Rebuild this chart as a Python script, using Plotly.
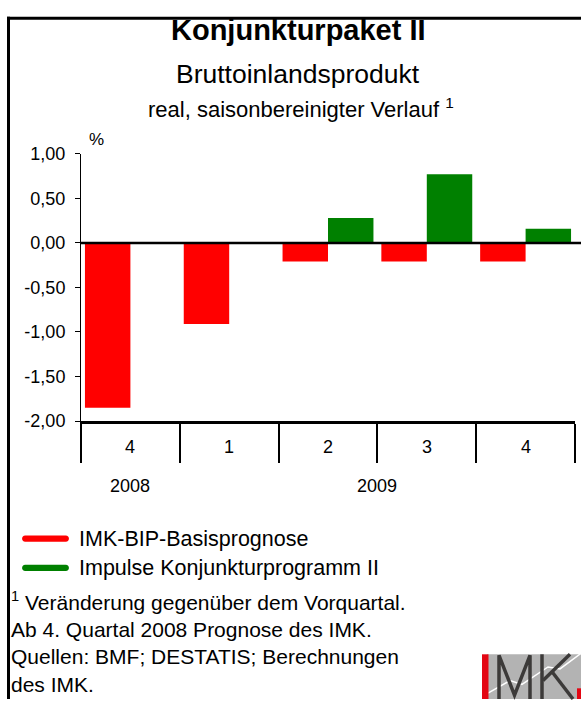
import plotly.graph_objects as go

# ---- data ----
quarters = ["Q4 2008", "Q1 2009", "Q2 2009", "Q3 2009", "Q4 2009"]
quarter_labels = ["4", "1", "2", "3", "4"]
years = ["2008", "2009"]
year_pos = [0, 2.5]
basis = [-1.85, -0.91, -0.21, -0.21, -0.21]
impulse = [None, None, 0.28, 0.77, 0.16]
ytick_vals = [1.0, 0.5, 0.0, -0.5, -1.0, -1.5, -2.0]
ytick_text = ["1,00", "0,50", "0,00", "-0,50", "-1,00", "-1,50", "-2,00"]

W, H = 581, 709
FONT = "Arial, Liberation Sans, sans-serif"


def px(x):
    return x / W


def py(y):
    return 1 - y / H


fig = go.Figure()
fig.add_trace(go.Bar(x=quarters, y=basis, name="IMK-BIP-Basisprognose",
                     marker=dict(color="#ff0000", line=dict(width=0)), showlegend=False))
fig.add_trace(go.Bar(x=quarters, y=impulse, name="Impulse Konjunkturprogramm II",
                     marker=dict(color="#008000", line=dict(width=0)), showlegend=False))

shapes = []
annotations = []

# frame (top & left)
shapes.append(dict(type="line", xref="paper", yref="paper", x0=px(7), x1=px(581),
                   y0=py(8.5), y1=py(8.5), line=dict(color="black", width=3)))
shapes.append(dict(type="line", xref="paper", yref="paper", x0=px(8.5), x1=px(8.5),
                   y0=py(7), y1=py(709), line=dict(color="black", width=3)))

# zero line
shapes.append(dict(type="line", xref="paper", yref="y", x0=px(81), x1=px(581),
                   y0=0, y1=0, line=dict(color="black", width=2.5), layer="above"))

# titles
annotations.append(dict(text="<b>Konjunkturpaket II</b>", x=px(298), y=py(20.5), xref="paper", yref="paper",
                        showarrow=False, xanchor="center", yanchor="middle",
                        font=dict(family=FONT, size=29, color="black")))
annotations.append(dict(text="Bruttoinlandsprodukt", x=px(298), y=py(66), xref="paper", yref="paper",
                        showarrow=False, xanchor="center", yanchor="middle",
                        font=dict(family=FONT, size=26.5, color="black")))
annotations.append(dict(text="real, saisonbereinigter Verlauf <sup>1</sup>", x=px(301), y=py(101),
                        xref="paper", yref="paper", showarrow=False, xanchor="center", yanchor="middle",
                        font=dict(family=FONT, size=22, color="black")))
annotations.append(dict(text="%", x=px(97), y=py(133), xref="paper", yref="paper",
                        showarrow=False, xanchor="center", yanchor="middle",
                        font=dict(family=FONT, size=17, color="black")))

# category labels
for q, lab in zip(quarters, quarter_labels):
    annotations.append(dict(text=lab, x=q, y=py(450), xref="x", yref="paper", showarrow=False,
                            xanchor="center", yanchor="middle",
                            font=dict(family=FONT, size=18, color="black")))
for yr, pos in zip(years, year_pos):
    annotations.append(dict(text=yr, x=pos, y=py(490), xref="x", yref="paper", showarrow=False,
                            xanchor="center", yanchor="middle",
                            font=dict(family=FONT, size=18, color="black")))


# legend
def pill(x0, x1, yc, h, color):
    r = h / 2
    pts = (f"M {px(x0 + r)},{py(yc - r)} L {px(x1 - r)},{py(yc - r)} "
           f"C {px(x1 + r * 0.3)},{py(yc - r)} {px(x1 + r * 0.3)},{py(yc + r)} {px(x1 - r)},{py(yc + r)} "
           f"L {px(x0 + r)},{py(yc + r)} "
           f"C {px(x0 - r * 0.3)},{py(yc + r)} {px(x0 - r * 0.3)},{py(yc - r)} {px(x0 + r)},{py(yc - r)} Z")
    return dict(type="path", xref="paper", yref="paper", path=pts, fillcolor=color,
                line=dict(width=0))


legend_names = ["IMK-BIP-Basisprognose", "Impulse Konjunkturprogramm II"]
legend_colors = ["#ff0000", "#008000"]
legend_y = [544, 574]
for name, col, ly in zip(legend_names, legend_colors, legend_y):
    shapes.append(pill(22, 69, ly, 6.5, col))
    annotations.append(dict(text=name, x=px(77), y=py(ly), xref="paper", yref="paper",
                            showarrow=False, xanchor="left", yanchor="middle",
                            font=dict(family=FONT, size=21.5, color="black")))

# footnotes
foot_lines = ["<sup>1</sup> Veränderung gegenüber dem Vorquartal.",
              "Ab 4. Quartal 2008 Prognose des IMK.",
              "Quellen: BMF; DESTATIS; Berechnungen",
              "des IMK."]
foot_y = [608, 637, 665, 694]
for t, fy in zip(foot_lines, foot_y):
    annotations.append(dict(text=t, x=px(9), y=py(fy), xref="paper", yref="paper",
                            showarrow=False, xanchor="left", yanchor="middle",
                            font=dict(family=FONT, size=21, color="black")))

# IMK logo
shapes.append(dict(type="rect", xref="paper", yref="paper", x0=px(487), x1=px(581),
                   y0=py(663), y1=py(709), fillcolor="#b3b3b3", line=dict(width=0)))
shapes.append(dict(type="path", xref="paper", yref="paper",
                   path=(f"M {px(488)},{py(703)} L {px(510)},{py(690)} L {px(522)},{py(694)} "
                         f"L {px(548)},{py(676)} L {px(560)},{py(678)} L {px(581)},{py(662)}"),
                   line=dict(color="white", width=1.5)))
shapes.append(dict(type="rect", xref="paper", yref="paper", x0=px(482), x1=px(488.5),
                   y0=py(663), y1=py(709), fillcolor="#e30613", line=dict(width=0)))
logo_col = "#3c3a39"
shapes.append(dict(type="path", xref="paper", yref="paper",
                   path=(f"M {px(499)},{py(709)} L {px(499)},{py(664)} L {px(514.5)},{py(705)} "
                         f"L {px(530)},{py(664)} L {px(530)},{py(709)}"),
                   line=dict(color=logo_col, width=3.5)))
shapes.append(dict(type="path", xref="paper", yref="paper",
                   path=f"M {px(542)},{py(663)} L {px(542)},{py(709)}",
                   line=dict(color=logo_col, width=3.5)))
shapes.append(dict(type="path", xref="paper", yref="paper",
                   path=f"M {px(543)},{py(690)} L {px(570)},{py(663)}",
                   line=dict(color=logo_col, width=3.5)))
shapes.append(dict(type="path", xref="paper", yref="paper",
                   path=f"M {px(552)},{py(681)} L {px(573)},{py(709)}",
                   line=dict(color=logo_col, width=3.5)))
shapes.append(dict(type="rect", xref="paper", yref="paper", x0=px(577), x1=px(581),
                   y0=py(698), y1=py(709), fillcolor="#e30613", line=dict(width=0)))

fig.update_layout(
    width=W, height=H,
    margin=dict(l=0, r=0, t=0, b=0),
    paper_bgcolor="white", plot_bgcolor="white",
    barmode="group", bargap=0.08, bargroupgap=0,
    showlegend=False,
    shapes=shapes, annotations=annotations,
    xaxis=dict(domain=[px(81), px(575)], type="category", categoryorder="array",
               categoryarray=quarters, tickson="boundaries", ticks="outside", ticklen=39,
               tickwidth=2, tickcolor="black", showticklabels=False, showline=True,
               linewidth=2.5, linecolor="black", showgrid=False, zeroline=False,
               fixedrange=True),
    yaxis=dict(domain=[py(423), py(148)], range=[-2, 1], tickvals=ytick_vals, ticktext=ytick_text,
               ticks="outside", ticklen=5, tickwidth=1, tickcolor="black", showline=True,
               linewidth=1, linecolor="black", showgrid=False, zeroline=False,
               ticklabelstandoff=6,
               tickfont=dict(family=FONT, size=18, color="black"), fixedrange=True),
)

fig.write_html(
    "out.html",
    config=dict(displayModeBar=False, responsive=False),
    post_script="document.body.style.margin='0';document.body.style.padding='0';"
                "document.documentElement.style.overflow='hidden';",
)
